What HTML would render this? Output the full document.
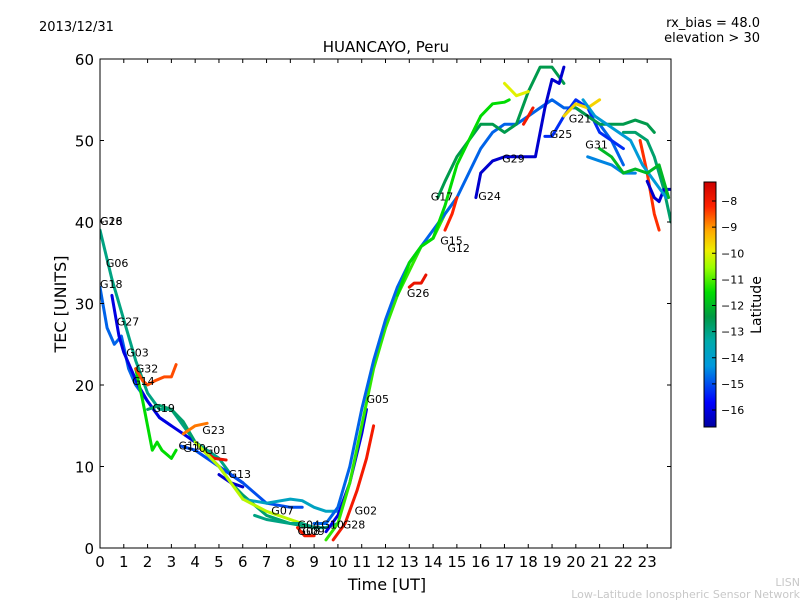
<!DOCTYPE html>
<html><head><meta charset="utf-8"><style>
body{margin:0;background:#fff;}
svg{display:block;font-family:"DejaVu Sans","Liberation Sans",sans-serif;}
</style></head><body>
<svg id="chart" width="800" height="600" viewBox="0 0 800 600">
<defs>
<linearGradient id="cbgrad" x1="0" y1="1" x2="0" y2="0">
<stop offset="0" stop-color="#0000a0"/><stop offset="0.1" stop-color="#0000ff"/>
<stop offset="0.25" stop-color="#0099dd"/><stop offset="0.35" stop-color="#00aaaa"/>
<stop offset="0.45" stop-color="#009944"/><stop offset="0.55" stop-color="#00dd00"/>
<stop offset="0.65" stop-color="#99ff00"/><stop offset="0.72" stop-color="#eeee00"/>
<stop offset="0.8" stop-color="#ffaa00"/><stop offset="0.9" stop-color="#ff2200"/>
<stop offset="1" stop-color="#cc0000"/>
</linearGradient>
<clipPath id="plotclip"><rect x="100" y="59" width="571" height="489"/></clipPath>
</defs>
<text x="39" y="31" font-size="13">2013/12/31</text>
<text x="760" y="27" font-size="13" text-anchor="end">rx_bias = 48.0</text>
<text x="760" y="42" font-size="13" text-anchor="end">elevation &gt; 30</text>
<text x="386" y="52" font-size="15" text-anchor="middle">HUANCAYO, Peru</text>
<g id="traces" clip-path="url(#plotclip)"></g>
<g id="labels"></g>
<rect x="100" y="59" width="571" height="489" fill="none" stroke="#000" stroke-width="1"/>
<g id="axes"></g>
<text x="387" y="590" font-size="16" text-anchor="middle">Time [UT]</text>
<text transform="translate(66,304) rotate(-90)" font-size="16" text-anchor="middle">TEC [UNITS]</text>
<rect x="704" y="182" width="12" height="245" fill="url(#cbgrad)" stroke="#000"/>
<g id="cbticks"></g>
<text transform="translate(761,305) rotate(-90)" font-size="14" text-anchor="middle">Latitude</text>
<text x="800" y="586" font-size="11" fill="#c8c8c8" text-anchor="end">LISN</text>
<text x="800" y="598" font-size="11" fill="#c8c8c8" text-anchor="end">Low-Latitude Ionospheric Sensor Network</text>
</svg>
<script>
const xTicks=[0,1,2,3,4,5,6,7,8,9,10,11,12,13,14,15,16,17,18,19,20,21,22,23];
const yTicks=[0,10,20,30,40,50,60];
const cbTicks=[-8,-9,-10,-11,-12,-13,-14,-15,-16];
const traceNames=["G18","G06","G16","G14","G32","G19","G23","G01","G11","G13","G07","Y1","G04","G09","P1","G05","R1","S1","G17","U1","V1","G24","G25","G21","G31","L1","L2","L3","G31b","G26","G15","G30","L4","L5"];
const traceTimes=[
[0,0.3,0.6,0.9,1.2,1.5,2,2.5,3],
[0,0.5,1,1.5,2,2.5,3,3.5,4,4.5,5,5.5,6],
[0.5,0.8,1,1.3,1.6,2,2.5,3,3.5,4,5,6],
[1.5,1.8,2.2,2.4,2.6,2.8,3,3.2],
[1.5,1.8,2,2.3,2.7,3,3.2],
[2,2.5,3,3.5,4,4.5,5,5.5,6,7,8,9],
[3.5,4,4.5],
[4.3,4.8,5.3],
[3.4,4,5,6,7,8,8.5],
[5,5.5,6],
[6,7,8,8.5,9,9.5,10],
[4,5,6,7,8,8.5,9],
[6.5,7,8,8.5,9,9.5,10],
[8.3,8.6,9],
[9.5,10,10.5,11,11.2],
[9.5,10,10.5,11,11.5,12,12.5,13,13.5,14,14.5,15],
[9.8,10.3,10.8,11.2,11.5],
[9,9.5,10,10.5,11,11.5,12,12.5,13,13.5,14,14.5,15,15.5,16,16.5,17,17.5,18,18.5,19,19.5,20,20.5,21,21.5,22],
[14.2,14.5,15,15.5,16,16.5,17,17.5,18,18.5,19,19.5],
[12.5,13,13.5,14,14.5,15,15.5,16,16.5,17,17.2],
[17,17.5,18],
[15.8,16,16.5,17,17.5,18,18.3,18.7,19,19.3,19.5],
[18.7,19,19.5,20,20.5,21,21.5,22],
[19.5,20,20.5,21],
[20,20.5,21,21.5,22,22.5,23,23.3],
[22.7,23,23.3,23.5],
[22,22.5,23,23.3,23.7,24],
[23,23.3,23.5,23.7,24],
[20.5,21,21.5,22,22.5],
[13,13.2,13.5,13.7],
[14.5,14.8,15],
[17.8,18,18.2],
[20.3,20.8,21.3,21.8,22.3,22.8,23.3,23.8],
[21,21.5,22,22.5,23,23.5,23.9]
];
const traceTec=[
[32,27,25,26,22,20,18,16,15],
[39,33,28,23,19,17,17,15,13,12,11,9,8],
[31,26,24,22,20,18,16,15,14,13,10,8],
[22,18,12,13,12,11.5,11,12],
[22,20.5,20,20.5,21,21,22.5],
[17,17.5,17,15.5,13,11.5,10,8,6.5,4,3,2.5],
[14,15,15.3],
[12,11,10.8],
[12.5,12,10,8,5.5,5,5],
[9,8,7.5],
[6,5.5,6,5.8,5,4.5,4.5],
[13,10,6,4.5,3.5,3,2.5],
[4,3.5,3,3,2.5,2.5,3],
[2.5,1.5,1.5],
[2,4,8,14,17],
[1,3,8,15,22,27,31,34,37,38,41,43],
[1,3,7,11,15],
[3,3,5,10,17,23,28,32,35,37,39,41,43,46,49,51,52,52,53,54,55,54,54,53,52,50,47],
[43,45,48,50,52,52,51,52,56,59,59,57],
[31,35,37,38,42,47,50,53,54.5,54.7,55],
[57,55.5,56],
[43,46,47.5,48,48,48,48,54,57.5,57,59],
[50.5,50.5,53,55,54,51,50,49],
[53,54.5,54,55],
[54,53,52,52,52,52.5,52,51],
[50,46,41,39],
[51,51,50,48,44,40],
[45,43,42.5,44,44],
[48,47.5,47,46,46],
[32,32.5,32.5,33.5],
[39,41,43],
[52,53,54],
[55,53,52,51,50,47,45,43],
[49,48,46,46.5,46,47,43]
];
const traceLat=[-14.8,-13,-16,-11.5,-8.5,-12.8,-8.8,-7.8,-15,-16.2,-13.8,-10.3,-13,-8,-16,-11.2,-8,-14.8,-12.5,-11.5,-10,-16.2,-15.3,-9.6,-12.5,-8.3,-12.8,-16.2,-14.5,-7.8,-8.2,-8,-14.2,-12];
const labelNames=["G16","G28","G06","G18","G27","G03","G32","G14","G19","G23","G11","G10","G01","G13","G07","G04","G08","G09","G10","G28","G02","G05","G26","G15","G12","G17","G24","G29","G25","G21","G31"];
const labelTimes=[0,0,0.25,0,0.7,1.1,1.5,1.35,2.2,4.3,3.3,3.5,4.4,5.4,7.2,8.3,8.3,8.5,9.3,10.2,10.7,11.2,12.9,14.3,14.6,13.9,15.9,16.9,18.9,19.7,20.4];
const labelTec=[40.1,40.1,35,32.4,27.8,24,22,20.5,17.2,14.5,12.6,12.3,12,9.1,4.6,2.9,2.1,2.1,2.9,2.9,4.6,18.3,31.3,37.7,36.8,43.1,43.2,47.8,50.8,52.7,49.5];

const NS="http://www.w3.org/2000/svg";
const X0=100,X1=671,Y0=548,Y1=59;
function xs(t){return X0+t*(X1-X0)/24;}
function ys(v){return Y0-v*(Y0-Y1)/60;}
function cbY(l){return 201+(-8-l)*(410-201)/8;}
const stops=[[0,[0,0,160]],[0.1,[0,0,255]],[0.25,[0,153,221]],[0.35,[0,170,170]],[0.45,[0,153,68]],[0.55,[0,221,0]],[0.65,[153,255,0]],[0.72,[238,238,0]],[0.8,[255,170,0]],[0.9,[255,34,0]],[1,[204,0,0]]];
function cmap(l){
  let f=(427-cbY(l))/245; f=Math.max(0,Math.min(1,f));
  for(let i=1;i<stops.length;i++){ if(f<=stops[i][0]){const a=stops[i-1],b=stops[i];const u=(f-a[0])/(b[0]-a[0]);
    const c=a[1].map((v,k)=>Math.round(v+(b[1][k]-v)*u));return `rgb(${c[0]},${c[1]},${c[2]})`;}}
  return "rgb(204,0,0)";
}
const tg=document.getElementById('traces');
for(let i=0;i<traceTimes.length;i++){
  const p=document.createElementNS(NS,'polyline');
  p.setAttribute('points',traceTimes[i].map((t,k)=>xs(t).toFixed(1)+','+ys(traceTec[i][k]).toFixed(1)).join(' '));
  p.setAttribute('fill','none');p.setAttribute('stroke',cmap(traceLat[i]));
  p.setAttribute('stroke-width','3');p.setAttribute('stroke-linejoin','round');p.setAttribute('stroke-linecap','round');
  
  
  tg.appendChild(p);
}
const lg=document.getElementById('labels');
for(let i=0;i<labelNames.length;i++){
  const t=document.createElementNS(NS,'text');
  t.setAttribute('x',xs(labelTimes[i]).toFixed(1));t.setAttribute('y',(ys(labelTec[i])+4).toFixed(1));
  t.setAttribute('font-size','11');t.textContent=labelNames[i];
  
  
  lg.appendChild(t);
}
const ag=document.getElementById('axes');
function line(g,x1,y1,x2,y2){const l=document.createElementNS(NS,'line');l.setAttribute('x1',x1);l.setAttribute('y1',y1);l.setAttribute('x2',x2);l.setAttribute('y2',y2);l.setAttribute('stroke','#000');g.appendChild(l);return l;}
function txt(g,x,y,s,anchor,size){const t=document.createElementNS(NS,'text');t.setAttribute('x',x);t.setAttribute('y',y);t.setAttribute('text-anchor',anchor);t.setAttribute('font-size',size);t.textContent=s;g.appendChild(t);return t;}
xTicks.forEach(v=>{const x=xs(v);
  const a=line(ag,x,Y0,x,Y0-4);
  
  
  const b=line(ag,x,Y1,x,Y1+4);
  
  
  const t=txt(ag,x,567,String(v),'middle',15);
  
  
});
yTicks.forEach(v=>{const y=ys(v);
  const a=line(ag,X0,y,X0+4,y);
  
  
  const b=line(ag,X1,y,X1-4,y);
  
  
  const t=txt(ag,94,y+6,String(v),'end',15);
  
  
});
const cg=document.getElementById('cbticks');
cbTicks.forEach(v=>{const y=cbY(v);
  const a=line(cg,712,y,716,y);
  
  
  const t=txt(cg,721,y+4,'\u2212'+Math.abs(v),'start',11);
  
  
});
</script>
</body></html>
